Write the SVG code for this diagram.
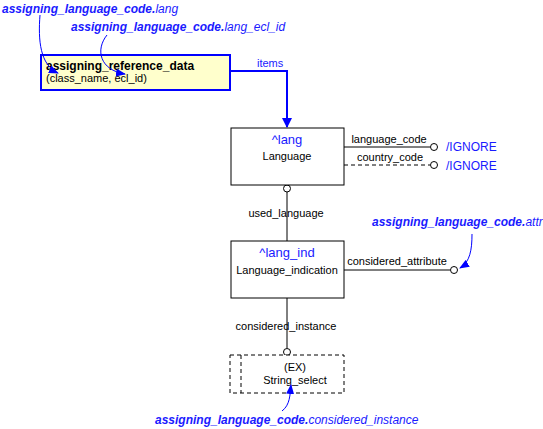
<svg xmlns="http://www.w3.org/2000/svg" width="543" height="429" viewBox="0 0 543 429">
<style>
text{font-family:"Liberation Sans",Arial,sans-serif;font-size:11px;fill:#000}
.blue{fill:#1a1aff}
.lbl{font-size:12px;font-style:italic;fill:#1a1aff}
.lbl tspan.b{font-weight:bold}
.box{fill:#fff;stroke:#000;stroke-width:1}
.ln{stroke:#000;stroke-width:1;fill:none}
.dash{stroke-dasharray:4,3}
.circ{fill:#fff;stroke:#000;stroke-width:1}
.ref{stroke:#0000ff;stroke-width:1;fill:none;marker-end:url(#ah)}
</style>
<defs>
<marker id="ah" markerWidth="10" markerHeight="8" refX="9" refY="4" orient="auto" markerUnits="userSpaceOnUse">
<path d="M0,0 L10,4 L0,8 z" fill="#0000ff"/>
</marker>
<marker id="ah2" markerWidth="10" markerHeight="10" refX="9" refY="5" orient="auto" markerUnits="userSpaceOnUse">
<path d="M0,0 L10,5 L0,10 z" fill="#0000ff"/>
</marker>
</defs>
<g id="connectors">
<path d="M230,71 H287 V127" stroke="#0000ff" stroke-width="2" fill="none" marker-end="url(#ah2)"/>
<text x="257" y="67" class="blue">items</text>
<line class="ln" x1="344" y1="147" x2="430" y2="147"/>
<circle class="circ" cx="434" cy="147" r="3.5"/>
<text x="389" y="143" text-anchor="middle">language_code</text>
<line class="ln dash" x1="344" y1="165" x2="430" y2="165"/>
<circle class="circ" cx="434" cy="165" r="3.5"/>
<text x="390" y="161" text-anchor="middle">country_code</text>
<text x="446" y="151" class="blue" style="font-size:12px">/IGNORE</text>
<text x="446" y="170" class="blue" style="font-size:12px">/IGNORE</text>
<line class="ln" x1="287" y1="192" x2="287" y2="241"/>
<circle class="circ" cx="287" cy="188.5" r="3.5"/>
<text x="286" y="217" text-anchor="middle">used_language</text>
<line class="ln" x1="344" y1="270" x2="450" y2="270"/>
<circle class="circ" cx="454" cy="270" r="3.5"/>
<text x="397" y="265" text-anchor="middle">considered_attribute</text>
<line class="ln" x1="287" y1="298" x2="287" y2="348"/>
<circle class="circ" cx="287" cy="352" r="3.5"/>
<text x="286" y="330" text-anchor="middle">considered_instance</text>
</g>
<g id="assigning_reference_data">
<rect x="41" y="55" width="189" height="35" fill="#ffffcc" stroke="#0000ff" stroke-width="2"/>
<text x="46" y="70" style="font-weight:bold;font-size:12px">assigning_reference_data</text>
<text x="46" y="82">(class_name, ecl_id)</text>
</g>
<g id="Language">
<rect class="box" x="231" y="128" width="113" height="57"/>
<text x="287" y="144" text-anchor="middle" class="blue" style="font-size:13px">^lang</text>
<text x="287" y="160" text-anchor="middle">Language</text>
</g>
<g id="Language_indication">
<rect class="box" x="231" y="241" width="113" height="57"/>
<text x="287" y="257" text-anchor="middle" class="blue" style="font-size:13px">^lang_ind</text>
<text x="287" y="274" text-anchor="middle">Language_indication</text>
</g>
<g id="String_select">
<rect x="230" y="355" width="114" height="38" fill="#fff" stroke="#000" stroke-dasharray="4,3"/>
<line class="ln dash" x1="241" y1="355" x2="241" y2="393"/>
<text x="295" y="371" text-anchor="middle">(EX)</text>
<text x="295" y="384" text-anchor="middle">String_select</text>
</g>
<g id="labels">
<path class="ref" d="M40,15 C38,40 40,65 58,73"/>
<path class="ref" d="M107,35 C95,50 100,70 125,74"/>
<path class="ref" d="M472,234 C472,250 470,262 460,268"/>
<path class="ref" d="M282,411 C290,405 290,395 291,385"/>
<text x="2" y="13" class="lbl"><tspan class="b">assigning_language_code.</tspan>lang</text>
<text x="71" y="31" class="lbl"><tspan class="b">assigning_language_code.</tspan>lang_ecl_id</text>
<text x="372" y="226" class="lbl"><tspan class="b">assigning_language_code.</tspan>attr</text>
<text x="155" y="424" class="lbl"><tspan class="b">assigning_language_code.</tspan>considered_instance</text>
</g>
</svg>
